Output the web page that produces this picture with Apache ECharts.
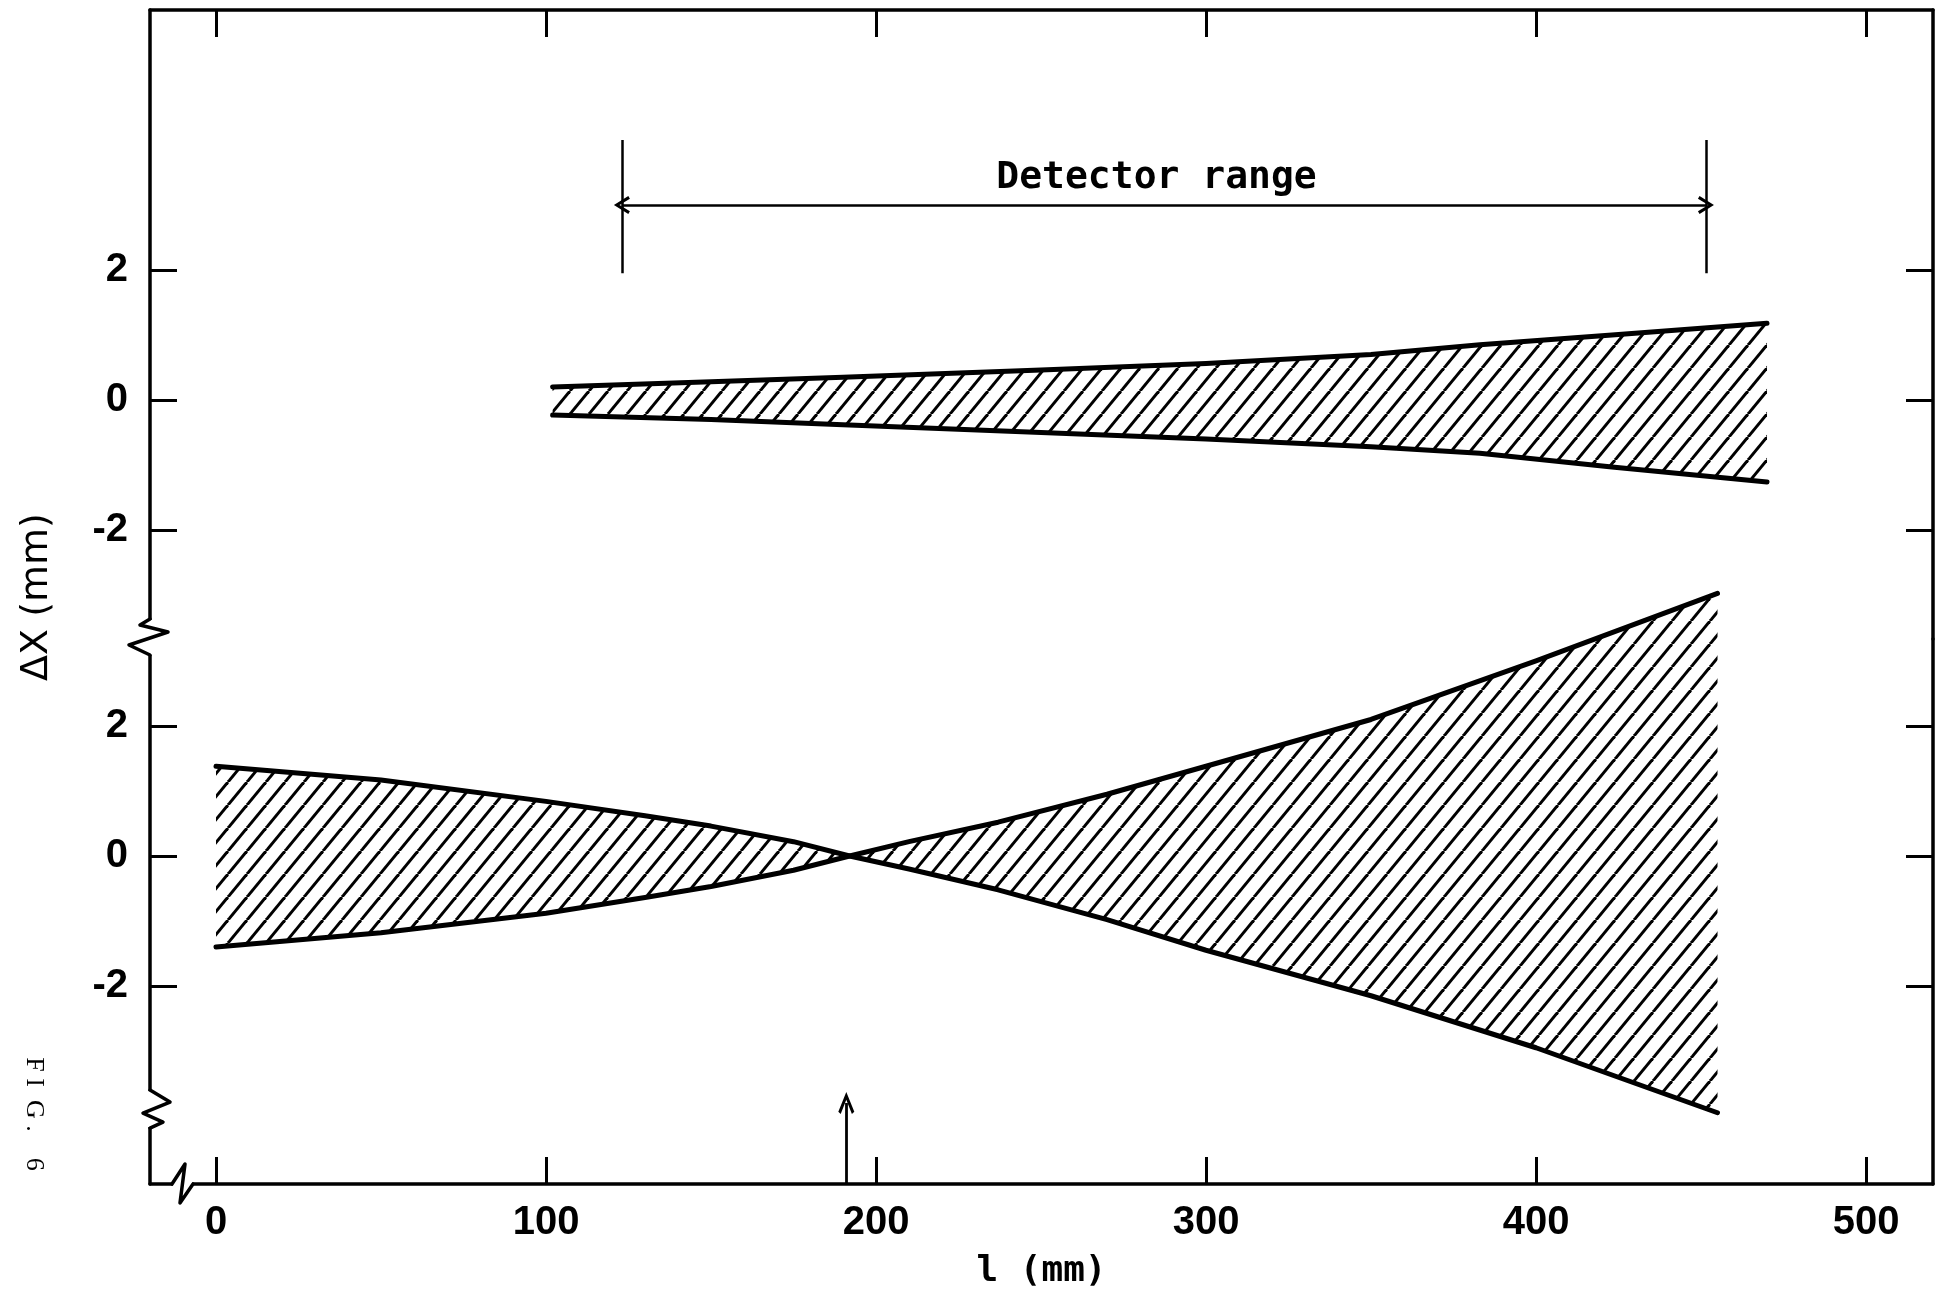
<!DOCTYPE html>
<html><head><meta charset="utf-8">
<script src="https://cdn.jsdelivr.net/npm/echarts@6/dist/echarts.min.js"></script>
<style>html,body{margin:0;padding:0;background:#fff;}#c{width:1937px;height:1293px;}</style>
</head><body><div id="c"></div>
<script>
// ---- data ----
const xTicks = [0, 100, 200, 300, 400, 500];
const yTicks = [-2, 0, 2];
// upper panel band
const upperX      = [102, 150, 190, 250, 300, 350, 383, 423, 470];
const upperTop    = [0.20, 0.28, 0.35, 0.46, 0.56, 0.70, 0.85, 1.00, 1.18];
const upperBottom = [-0.23, -0.30, -0.38, -0.50, -0.60, -0.72, -0.82, -1.03, -1.26];
// lower panel band
const lowerX      = [0, 50, 100, 130, 150, 175, 192, 210, 237, 270, 300, 350, 400, 455];
const lowerTop    = [1.38, 1.17, 0.84, 0.62, 0.46, 0.22, 0, 0.22, 0.52, 0.95, 1.38, 2.10, 3.00, 4.04];
const lowerBottom = [-1.40, -1.18, -0.88, -0.64, -0.47, -0.22, 0, -0.20, -0.52, -0.98, -1.45, -2.15, -2.95, -3.95];
// annotations (data units)
const detectorRange = [123, 451.5];
const detectorBarY = [1.95, 4.0];
const detectorArrowY = 3.0;
const detectorLabelPos = [285, 3.42];
const focusX = 191;
const focusArrowTop = -3.8;
// axis ranges
const xRange = [-20, 520.3];
const upperYRange = [-3.677, 6.0];
const lowerYRange = [-5.046, 3.338];
const lowerYBreak = -3.94;
const xBreak = -10;

// ---- styles ----
const BLACK = '#000';
const tickFont = {fontFamily: '"Liberation Sans",Arial,sans-serif', fontWeight: 'bold', fontSize: 40, color: BLACK};
const monoFont = '"DejaVu Sans Mono","Liberation Mono",monospace';
const axisLine = {show: true, onZero: false, lineStyle: {color: BLACK, width: 3.5}};
const chevron = 'path://M10,0 L20,18 L17,20 L10,7 L3,20 L0,18 Z';

function hatchPattern() {
  const W = 19, H = 23;
  const c = document.createElement('canvas');
  c.width = W; c.height = H;
  const g = c.getContext('2d');
  g.fillStyle = '#fff'; g.fillRect(0, 0, W, H);
  g.strokeStyle = '#000'; g.lineWidth = 3;
  for (const dx of [-W, 0, W]) {
    g.beginPath(); g.moveTo(dx, H); g.lineTo(dx + W, 0); g.stroke();
  }
  return c;
}
const hatch = {image: hatchPattern(), repeat: 'repeat'};

function yAx(grid, pos, range, labels) {
  return {
    gridIndex: grid, type: 'value', position: pos, min: range[0], max: range[1],
    axisLine: axisLine,
    axisTick: {show: true, inside: true, length: 27, customValues: yTicks, lineStyle: {color: BLACK, width: 3}},
    axisLabel: labels ? Object.assign({show: true, customValues: yTicks, margin: 22}, tickFont) : {show: false},
    splitLine: {show: false}
  };
}

function bandSeries(xs, top, bottom, xi, yi) {
  return {
    type: 'custom', xAxisIndex: xi, yAxisIndex: yi, silent: true, z: 2, clip: false,
    data: [[xs[0], top[0]]],
    renderItem: function (params, api) {
      const pts = [];
      for (let i = 0; i < xs.length; i++) pts.push(api.coord([xs[i], top[i]]));
      for (let i = xs.length - 1; i >= 0; i--) pts.push(api.coord([xs[i], bottom[i]]));
      return {type: 'polygon', shape: {points: pts}, style: {fill: hatch, stroke: null}};
    }
  };
}
function edge(xs, ys, xi, yi, extra) {
  return Object.assign({
    type: 'line', xAxisIndex: xi, yAxisIndex: yi, silent: true, z: 3, clip: false,
    symbol: 'none', showSymbol: false, smooth: false,
    lineStyle: {color: BLACK, width: 5, cap: 'round', join: 'round'},
    data: xs.map((x, i) => [x, ys[i]])
  }, extra || {});
}

const chart = echarts.init(document.getElementById('c'), null, {renderer: 'canvas'});
chart.setOption({
  animation: false,
  backgroundColor: '#fff',
  grid: [
    {left: 150, right: 4, top: 10, height: 629, outerBoundsMode: 'none', containLabel: false},
    {left: 150, right: 4, top: 639, height: 545, outerBoundsMode: 'none', containLabel: false},
    {left: 150, right: 4, top: 10, height: 1174, outerBoundsMode: 'none', containLabel: false}
  ],
  xAxis: [
    {gridIndex: 0, type: 'value', position: 'top', min: xRange[0], max: xRange[1],
     axisLine: axisLine,
     axisTick: {show: true, inside: true, length: 27, customValues: xTicks, lineStyle: {color: BLACK, width: 3}},
     axisLabel: {show: false}, splitLine: {show: false}},
    {gridIndex: 1, type: 'value', position: 'bottom', min: xRange[0], max: xRange[1],
     axisLine: axisLine,
     axisTick: {show: true, inside: true, length: 27, customValues: xTicks, lineStyle: {color: BLACK, width: 3}},
     axisLabel: Object.assign({show: true, customValues: xTicks, margin: 19}, tickFont),
     splitLine: {show: false},
     name: 'l (mm)', nameLocation: 'middle', nameGap: 70,
     nameTextStyle: {fontFamily: monoFont, fontWeight: 'bold', fontSize: 36, color: BLACK}},
    {gridIndex: 2, type: 'value', min: 0, max: 1, show: false}
  ],
  yAxis: [
    yAx(0, 'left', upperYRange, true),
    yAx(0, 'right', upperYRange, false),
    yAx(1, 'left', lowerYRange, true),
    yAx(1, 'right', lowerYRange, false),
    {gridIndex: 2, type: 'value', position: 'left', min: 0, max: 1,
     axisLine: {show: false}, axisTick: {show: false}, axisLabel: {show: false}, splitLine: {show: false},
     name: 'ΔX (mm)', nameLocation: 'middle', nameGap: 94,
     nameTextStyle: {fontFamily: '"DejaVu Sans",sans-serif', fontSize: 38, color: BLACK}}
  ],
  series: [
    bandSeries(upperX, upperTop, upperBottom, 0, 0),
    edge(upperX, upperTop, 0, 0),
    edge(upperX, upperBottom, 0, 0, {
      markLine: {
        silent: true, symbol: 'none', label: {show: false},
        lineStyle: {color: BLACK, width: 2.5, type: 'solid'},
        data: [
          [{coord: [detectorRange[0], detectorBarY[0]]}, {coord: [detectorRange[0], detectorBarY[1]]}],
          [{coord: [detectorRange[1], detectorBarY[0]]}, {coord: [detectorRange[1], detectorBarY[1]]}],
          [{coord: [detectorRange[0], detectorArrowY], symbol: chevron, symbolSize: [18, 16]},
           {coord: [detectorRange[1], detectorArrowY], symbol: chevron, symbolSize: [18, 16]}]
        ]
      },
      markPoint: {
        silent: true, symbol: 'circle', symbolSize: 0,
        label: {show: true, position: 'inside', formatter: 'Detector range',
                fontFamily: monoFont, fontWeight: 'bold', fontSize: 38, color: BLACK},
        data: [{coord: detectorLabelPos}]
      }
    }),
    bandSeries(lowerX, lowerTop, lowerBottom, 1, 2),
    edge(lowerX, lowerTop, 1, 2),
    edge(lowerX, lowerBottom, 1, 2, {
      markLine: {
        silent: true, symbol: 'none', label: {show: false},
        lineStyle: {color: BLACK, width: 2.8, type: 'solid'},
        data: [
          [{coord: [focusX, lowerYRange[0]], symbol: 'none'},
           {coord: [focusX, focusArrowTop], symbol: chevron, symbolSize: [16, 22]}]
        ]
      }
    })
  ]
});

// axis-break decorations, placed through the axes' own scales
const axX = chart.convertToPixel({xAxisIndex: 1}, xRange[0]);
const axY = chart.convertToPixel({yAxisIndex: 2}, lowerYRange[0]);
const b1 = chart.convertToPixel({yAxisIndex: 0}, upperYRange[0]);
const b2 = chart.convertToPixel({yAxisIndex: 2}, lowerYBreak);
const bx = chart.convertToPixel({xAxisIndex: 1}, xBreak);
const zz = {stroke: BLACK, lineWidth: 3.5, lineJoin: 'round', lineCap: 'round', fill: null};
chart.setOption({
  graphic: [
    {type: 'rect', z: 100, shape: {x: axX - 4, y: b1 - 19, width: 8, height: 35}, style: {fill: '#fff'}},
    {type: 'polyline', z: 101, shape: {points: [[axX, b1 - 20], [axX - 10, b1 - 14], [axX + 18, b1 - 7], [axX - 21, b1 + 6], [axX, b1 + 16]]}, style: zz},
    {type: 'rect', z: 100, shape: {x: axX - 4, y: b2 - 21, width: 8, height: 36}, style: {fill: '#fff'}},
    {type: 'polyline', z: 101, shape: {points: [[axX, b2 - 22], [axX + 20, b2 - 10], [axX - 7, b2 + 1], [axX + 13, b2 + 10], [axX, b2 + 16]]}, style: zz},
    {type: 'rect', z: 100, shape: {x: bx - 10, y: axY - 4, width: 19, height: 8}, style: {fill: '#fff'}},
    {type: 'polyline', z: 101, shape: {points: [[bx - 11, axY], [bx + 2, axY - 20], [bx - 3, axY + 19], [bx + 10, axY]]}, style: zz},
    {type: 'text', z: 101, x: 34, y: 1114, rotation: -Math.PI / 2,
     style: {text: 'F I  G .    6', font: '26px "Liberation Serif", serif', fill: BLACK, align: 'center', verticalAlign: 'middle'}}
  ]
});
</script>
</body></html>
